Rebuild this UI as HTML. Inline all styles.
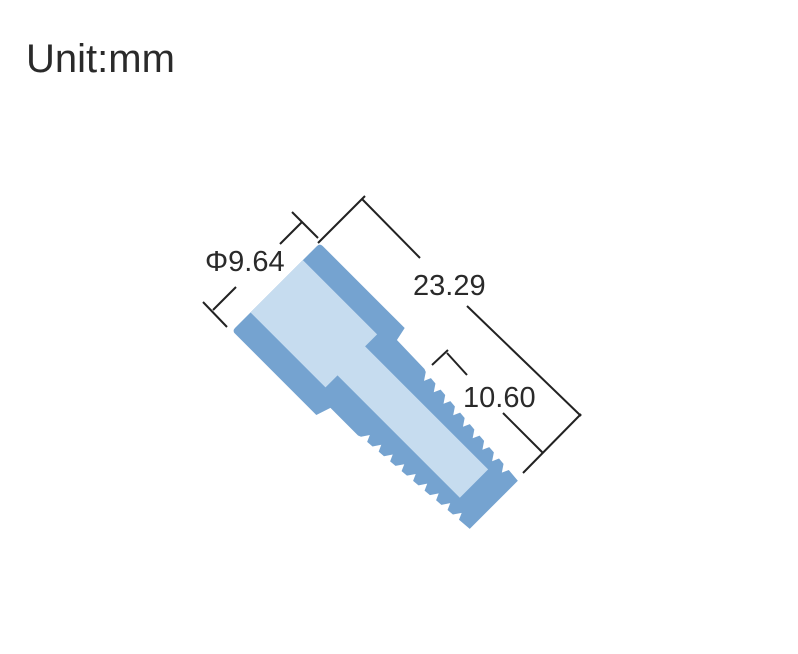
<!DOCTYPE html>
<html><head><meta charset="utf-8"><style>
html,body{margin:0;padding:0;background:#fff;}
body{width:798px;height:654px;overflow:hidden;position:relative;}
svg{position:absolute;left:0;top:0;}
text{font-family:"Liberation Sans",sans-serif;fill:#2a2a2a;}
</style></head><body>
<svg width="798" height="654" viewBox="0 0 798 654">
<text x="26" y="72" font-size="40" fill="#1a1a1a">Unit:mm</text>
<g transform="translate(276,287) rotate(45)">
<path id="outer" fill="#75a3d0" d=""/>
<path fill="#c6dcef" d="M0,-38 L105,-38 L105,-21 L279,-21 L279,19 L106,19 L106,36 L0,36 Z"/>
</g>
<g stroke="#222" stroke-width="2" fill="none">
<line x1="318" y1="243" x2="365" y2="196"/>
<line x1="362" y1="199" x2="420" y2="258"/>
<line x1="467" y1="306" x2="581" y2="416"/>
<line x1="581" y1="414" x2="523" y2="473"/>
<line x1="292" y1="212" x2="318" y2="238"/>
<line x1="302" y1="222" x2="280" y2="244"/>
<line x1="236" y1="287" x2="213" y2="310"/>
<line x1="203" y1="302" x2="227" y2="327"/>
<line x1="432" y1="365" x2="448" y2="350"/>
<line x1="447" y1="353" x2="467" y2="375"/>
<line x1="503" y1="413" x2="543" y2="453"/>
</g>
<text x="413" y="295" font-size="29">23.29</text>
<text x="205" y="271" font-size="29">Φ9.64</text>
<text x="463" y="407" font-size="29">10.60</text>
</svg>
<script>
(function(){
function c(u){return 46-(u-163)*12/145;}
var p=15,start=163,end=308;
var d="M4,-62 L120,-62 L123,-48 L163,-47";
var xs=[];for(var s=start;s+p<=end-4;s+=p)xs.push(s);
xs.forEach(function(x){
 d+=" L"+(x+3)+","+(-c(x+3)).toFixed(1)+" L"+(x+8)+","+(-(c(x+8)-7)).toFixed(1)+" L"+(x+11)+","+(-c(x+11)).toFixed(1);
});
d+=" L"+end+","+(-c(end)).toFixed(1)+" L"+end+","+c(end).toFixed(1);
for(var i=xs.length-1;i>=0;i--){var x=xs[i];
 d+=" L"+(x+11)+","+c(x+11).toFixed(1)+" L"+(x+8)+","+(c(x+8)-7).toFixed(1)+" L"+(x+3)+","+c(x+3).toFixed(1);}
d+=" L163,47 L124,47 L119,62 L4,62 Q0,62 0,58 L0,-58 Q0,-62 4,-62 Z";
document.getElementById("outer").setAttribute("d",d);
})();
</script>
</body></html>
